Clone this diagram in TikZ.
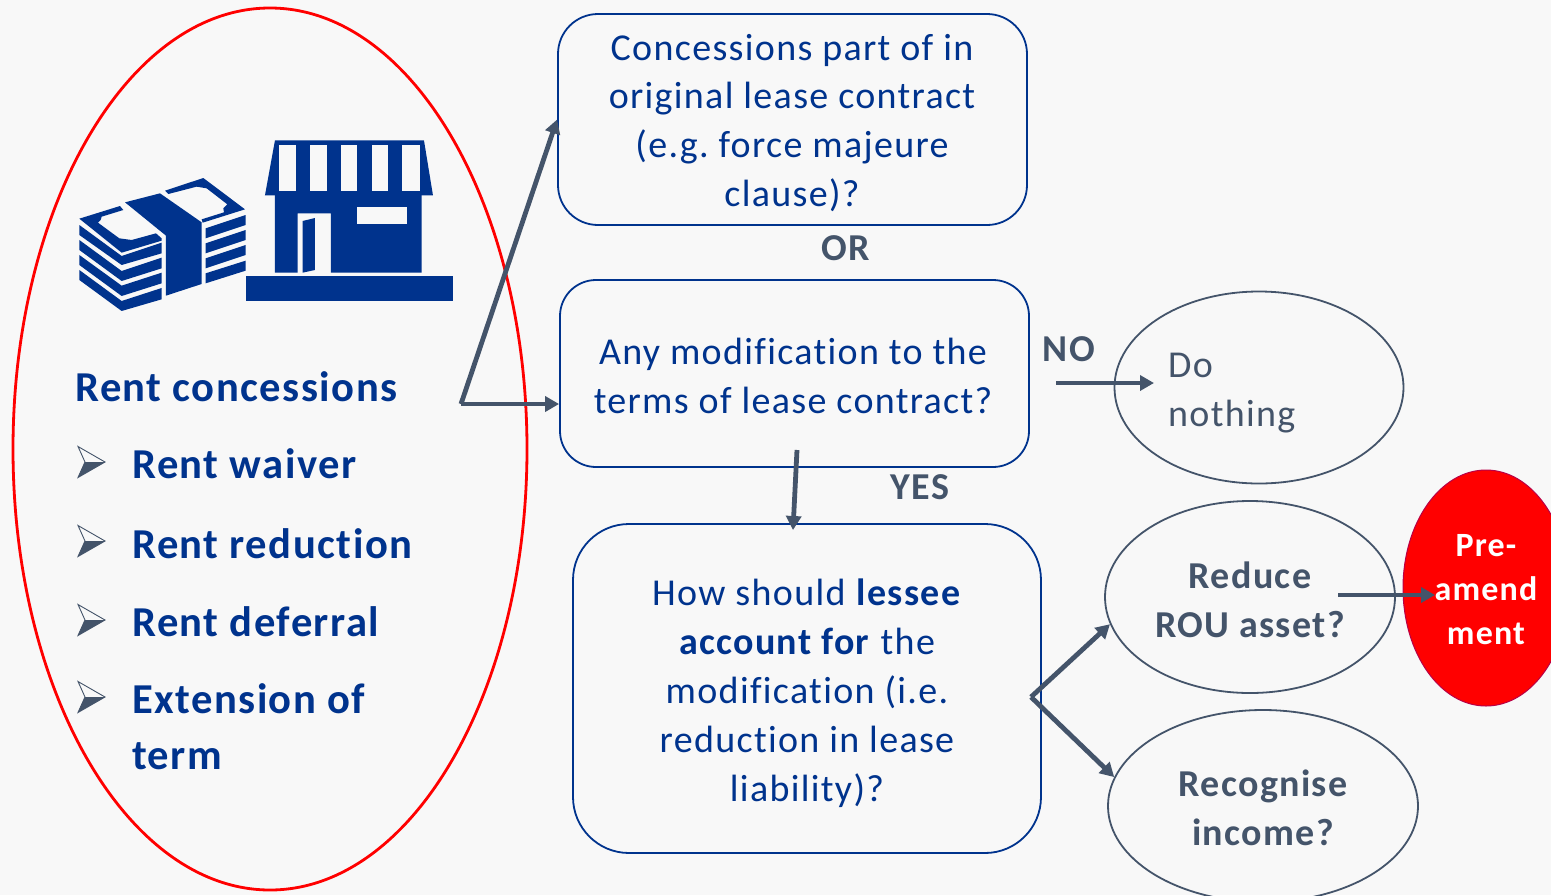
\documentclass[tikz,border=0pt]{standalone}
\usepackage{fontspec}
\setmainfont{Carlito}[LetterSpace=3.5,Ligatures=NoCommon]
\usetikzlibrary{shapes.geometric,arrows.meta}
\definecolor{navy}{HTML}{00338D}
\definecolor{slate}{HTML}{44546A}
\definecolor{bgc}{HTML}{F8F8F8}
\newcommand{\fsz}[1]{\fontsize{#1}{48.9}\selectfont}
\tikzset{
  qbox/.style={draw=navy,line width=1.8pt,rounded corners=#1,inner sep=0pt},
  qtext/.style={align=center,inner sep=0pt,font=\fsz{38},text=navy},
  oval/.style={draw=slate,line width=1.8pt,ellipse,inner sep=0pt},
  ovaltext/.style={text=slate,font=\fsz{38}\bfseries,align=center,inner sep=0pt},
  link/.style={draw=slate,line width=4.8pt,-{Triangle[length=14pt,width=15pt]}},
  head/.style={text=navy,font=\fsz{42.6}\bfseries,anchor=base west,inner sep=0pt},
  tag/.style={text=slate,font=\fsz{38}\bfseries,inner sep=0pt,anchor=base},
  icon/.style={fill=navy,draw=none},
  gapf/.style={fill=bgc,draw=none}
}
\begin{document}
\begin{tikzpicture}[x=1pt,y=-1pt]
\useasboundingbox (0,0) rectangle (1551,895);
\clip (0,0) rectangle (1551,895);
\fill[bgc] (0,0) rectangle (1551,895);

% left ellipse
\node[ellipse,draw=red,line width=2.8pt,minimum width=514pt,minimum height=882pt,inner sep=0pt] (rent) at (270,449) {};

% money icon, left part
\begin{scope}[shift={(70,170)},x=.3333pt,y=-.3333pt]
\fill[icon] (28,146)--(150,108)--(160,120)--(95,140)--(92,150)--(84,158)--(148,205)--(185,210)--(258,190)--(275,205)--(275,212)--(155,248)--cycle;
\fill[icon] (28,165)--(155,258)--(275,218)--(275,250)--(155,285)--(28,195)--cycle;
\fill[icon] (28,210)--(155,303)--(275,263)--(275,295)--(155,333)--(28,240)--cycle;
\fill[icon] (28,255)--(155,347)--(275,308)--(275,340)--(155,378)--(28,285)--cycle;
\fill[icon] (28,300)--(155,393)--(275,354)--(275,388)--(155,423)--(28,330)--cycle;
\end{scope}
% money icon, band and right part
\begin{scope}[shift={(150,170)},x=.3333pt,y=-.3333pt]
\fill[icon] (-75,97)--(30,70)--(155,157)--(155,342)--(48,377)--(48,197)--cycle;
\fill[icon] (45,62)--(160,24)--(285,118)--(158,158)--(155,148)--(222,127)--(220,115)--(232,103)--(170,55)--(140,50)--(55,72)--cycle;
\fill[icon] (167,175)--(287,135)--(287,165)--(167,205)--cycle;
\fill[icon] (167,220)--(287,180)--(287,210)--(167,250)--cycle;
\fill[icon] (167,265)--(287,225)--(287,255)--(167,295)--cycle;
\fill[icon] (167,310)--(287,272)--(287,302)--(167,340)--cycle;
\end{scope}
% shop icon
\begin{scope}[shift={(60,130)},x=.3333pt,y=-.3333pt]
\fill[icon] (558,437) rectangle (1179,513);
\fill[icon] (645,195)--(1085,195)--(1085,428)--(813,428)--(813,250)--(713,250)--(713,428)--(645,428)--cycle;
\fill[icon] (728,273)--(765,264)--(765,420)--(728,428)--cycle;
\fill[gapf] (891,232) rectangle (1042,282);
\fill[icon] (645,31)--(1092,31)--(1119,196)--(615,196)--cycle;
\fill[gapf] (656,44) rectangle (708,184);
\fill[gapf] (749,44) rectangle (801,184);
\fill[gapf] (843,44) rectangle (891,184);
\fill[gapf] (936,44) rectangle (985,184);
\fill[gapf] (1027,44) rectangle (1079,184);
\end{scope}

% left texts
\node[head] (t0) at (75,401) {Rent concessions};
\node[head] (t1) at (132,478) {Rent waiver};
\node[head] (t2) at (132,558) {Rent reduction};
\node[head] (t3) at (132,636) {Rent deferral};
\node[head] (t4) at (132,713) {Extension of};
\node[head] (t5) at (132,769) {term};
% bullets
\foreach \yy in {462,541,620,697}{
  \fill[slate] (78,\yy+15.5)--(105,\yy)--(85,\yy)--cycle;
  \draw[slate,line width=.9pt,line join=miter] (78,\yy-15.5)--(105,\yy)--(78,\yy+15.5)--(85,\yy)--cycle;
}

% question boxes
\node[qbox=40pt,minimum width=469pt,minimum height=211pt] (q1) at (792.5,119.5) {};
\node[qtext] (q1t) at (792,123) {Concessions part of in\\original lease contract\\(e.g.\ force majeure\\clause)?};
\node[qbox=36pt,minimum width=469pt,minimum height=187pt] (q2) at (794.5,373.5) {};
\node[qtext] (q2t) at (793,375.5) {Any modification to the\\terms of lease contract?};
\node[qbox=56pt,minimum width=468pt,minimum height=329pt] (q3) at (807,688.5) {};
\node[qtext] (q3t) at (807,693) {How should \textbf{lessee}\\\textbf{account for} the\\modification (i.e.\\reduction in lease\\liability)?};

\node[tag] (or) at (846,260) {OR};
\node[tag] (no) at (1069,361) {NO};
\node[tag] (yes) at (920,499) {YES};

% ovals
\node[oval,minimum width=289pt,minimum height=192pt] (dn) at (1259,387.5) {};
\node[text=slate,font=\fsz{38},align=left,anchor=west,inner sep=0pt] (dnt) at (1168,393) {Do\\nothing};
\node[ellipse,fill=red,draw={rgb:red,8;blue,3},line width=1pt,minimum width=166pt,minimum height=236pt,inner sep=0pt] (pre) at (1486,588) {};
\node[oval,minimum width=290pt,minimum height=192pt] (rou) at (1250,597) {};
\node[ovaltext] (rout) at (1250,600) {Reduce\\ROU asset?};
\node[oval,minimum width=310pt,minimum height=192pt] (inc) at (1263,806) {};
\node[ovaltext] (inct) at (1263,807.5) {Recognise\\income?};

% connectors
\coordinate (fork1) at (461,404);
\coordinate (fork2) at (1031,697);
\coordinate (noS) at (1056,383);
\coordinate (noE) at (1154,383);
\coordinate (yesS) at (797,450);
\coordinate (yesE) at (793,530);
\coordinate (preS) at (1338,595);
\coordinate (preE) at (1435,595);
\draw[link] (fork1) -- (q1.west);
\draw[link] (fork1) -- (q2.west |- fork1);
\draw[link] (noS) -- (noE);
\draw[link] (yesS) -- (yesE);
\draw[link] (fork2) -- (rou.191);
\draw[link] (fork2) -- (inc.169);
\draw[link] (preS) -- (preE);
\node[text=white,font=\fontsize{34}{44}\selectfont\bfseries,align=center,inner sep=0pt] (pret) at (1486,590) {Pre-\\amend\\ment};
\end{tikzpicture}
\end{document}
